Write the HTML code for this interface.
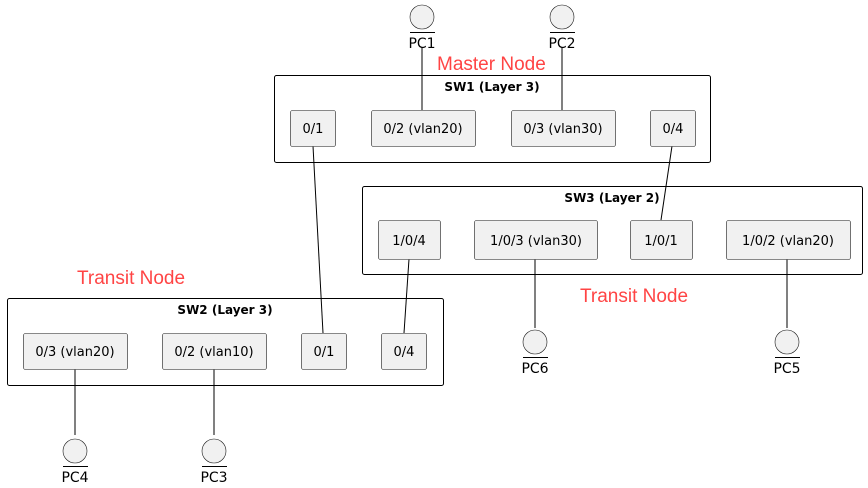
<!DOCTYPE html>
<html><head><style>body{margin:0;background:#fff}svg{display:block}</style></head><body>
<svg width="868" height="488" viewBox="0 0 868 488" xmlns="http://www.w3.org/2000/svg" font-family="Liberation Sans, sans-serif">
<g stroke="#000" stroke-width="1" fill="none">
<line x1="422" y1="48" x2="422" y2="110"/>
<line x1="562" y1="48" x2="562" y2="110"/>
<line x1="313" y1="146" x2="323" y2="333"/>
<line x1="672" y1="146" x2="661" y2="220"/>
<line x1="409" y1="259" x2="404" y2="333"/>
<line x1="535" y1="259" x2="535" y2="328"/>
<line x1="787" y1="259" x2="787" y2="328"/>
<line x1="75" y1="369" x2="75" y2="435"/>
<line x1="214" y1="369" x2="214" y2="435"/>
<rect x="274.5" y="75.5" width="436" height="87" rx="2"/>
<rect x="362.5" y="186.5" width="500" height="88" rx="2"/>
<rect x="7.5" y="298.5" width="436" height="87" rx="2"/>
</g>
<g fill="#f1f1f1" stroke="#181818" stroke-width="0.6">
<rect x="290.5" y="110.5" width="45" height="36" rx="2"/>
<rect x="371.5" y="110.5" width="104" height="36" rx="2"/>
<rect x="511.5" y="110.5" width="104" height="36" rx="2"/>
<rect x="650.5" y="110.5" width="45" height="36" rx="2"/>
<rect x="378.5" y="220.5" width="62" height="39" rx="2"/>
<rect x="474.5" y="220.5" width="123" height="39" rx="2"/>
<rect x="630.5" y="220.5" width="62" height="39" rx="2"/>
<rect x="726.5" y="220.5" width="124" height="39" rx="2"/>
<rect x="23.5" y="333.5" width="104" height="36" rx="2"/>
<rect x="162.5" y="333.5" width="104" height="36" rx="2"/>
<rect x="301.5" y="333.5" width="45" height="36" rx="2"/>
<rect x="381.5" y="333.5" width="45" height="36" rx="2"/>
<circle cx="422" cy="17" r="12"/><circle cx="562" cy="17" r="12"/>
<circle cx="535" cy="342" r="12"/><circle cx="787" cy="342" r="12"/>
<circle cx="75" cy="451" r="12"/><circle cx="214" cy="451" r="12"/>
</g>
<g stroke="#000" stroke-width="1">
<line x1="410" y1="32.5" x2="435" y2="32.5"/><line x1="550" y1="32.5" x2="575" y2="32.5"/>
<line x1="523" y1="357.5" x2="548" y2="357.5"/><line x1="775" y1="357.5" x2="800" y2="357.5"/>
<line x1="63" y1="466.5" x2="88" y2="466.5"/><line x1="202" y1="466.5" x2="227" y2="466.5"/>
</g>
<g font-size="14" fill="#000" text-anchor="middle" font-family="DejaVu Sans, sans-serif">
<text x="422" y="48">PC1</text><text x="562" y="48">PC2</text>
<text x="535" y="373">PC6</text><text x="787" y="373">PC5</text>
<text x="75" y="482">PC4</text><text x="214" y="482">PC3</text>
</g>
<g font-size="12" font-weight="bold" text-anchor="middle" font-family="DejaVu Sans, sans-serif">
<text x="492" y="91">SW1 (Layer 3)</text>
<text x="612" y="202">SW3 (Layer 2)</text>
<text x="225" y="314">SW2 (Layer 3)</text>
</g>
<g font-size="13" text-anchor="middle" font-family="DejaVu Sans, sans-serif">
<text x="313" y="133">0/1</text><text x="423" y="133">0/2 (vlan20)</text>
<text x="563" y="133">0/3 (vlan30)</text><text x="673" y="133">0/4</text>
<text x="409" y="245">1/0/4</text><text x="536" y="245">1/0/3 (vlan30)</text>
<text x="661" y="245">1/0/1</text><text x="788" y="245">1/0/2 (vlan20)</text>
<text x="75" y="356">0/3 (vlan20)</text><text x="214" y="356">0/2 (vlan10)</text>
<text x="324" y="356">0/1</text><text x="404" y="356">0/4</text>
</g>
<g font-size="19" fill="#ff4444">
<text x="437" y="70">Master Node</text>
<text x="580" y="302">Transit Node</text>
<text x="77" y="284">Transit Node</text>
</g>
</svg>
</body></html>
